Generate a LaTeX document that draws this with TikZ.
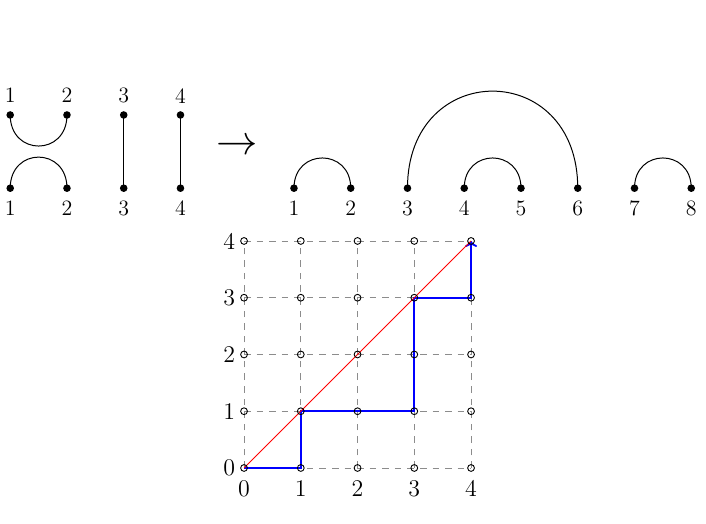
\documentclass[tikz,border=0pt]{standalone}
\usetikzlibrary{arrows.meta}
\begin{document}
\begin{tikzpicture}[
  dot/.style={circle,fill=black,inner sep=0pt,minimum size=3.8pt},
  gpt/.style={circle,draw=black,inner sep=0pt,minimum size=3.4pt,line width=0.45pt},
  toplbl/.style={font=\fontsize{11}{13}\selectfont,inner sep=0pt},
  glbl/.style={font=\large,inner sep=0pt},
  arcline/.style={line width=0.5pt},
  gridline/.style={gray!90,dash pattern=on 3.3pt off 3pt,line width=0.45pt},
  diag/.style={red,line width=0.4pt},
  path/.style={blue,line width=0.9pt},
]
\useasboundingbox (0,0) rectangle (12.44,9.216);
% left: two-row diagram
\foreach \i in {1,...,4}{
  \node[dot] (t\i) at ({0.18+\i-1},7.19) {};
  \node[dot] (b\i) at ({0.18+\i-1},5.90) {};
  \node[toplbl] (tl\i) at ({0.18+\i-1},7.53) {\i};
  \node[toplbl] (bl\i) at ({0.18+\i-1},5.55) {\i};
}
\draw[arcline] (t1.center) .. controls +(0,-0.73) and +(0,-0.73) .. (t2.center);
\draw[arcline] (b1.center) .. controls +(0,0.73) and +(0,0.73) .. (b2.center);
\draw[arcline] (t3.center) -- (b3.center);
\draw[arcline] (t4.center) -- (b4.center);
% arrow
\node[inner sep=0pt,font=\fontsize{21.6}{24}\selectfont] (arr) at (4.18,6.62) {$\rightarrow$};
% right: arc diagram
\foreach \i in {1,...,8}{
  \node[dot] (r\i) at ({5.18+\i-1},5.90) {};
  \node[toplbl] (rl\i) at ({5.18+\i-1},5.55) {\i};
}
\draw[arcline] (r1.center) .. controls +(0,0.71) and +(0,0.71) .. (r2.center);
\draw[arcline] (r4.center) .. controls +(0,0.71) and +(0,0.71) .. (r5.center);
\draw[arcline] (r7.center) .. controls +(0,0.71) and +(0,0.71) .. (r8.center);
\draw[arcline] (r3.center) .. controls +(0,2.28) and +(0,2.28) .. (r6.center);
% lattice
\begin{scope}[shift={(4.30,0.97)}]
  \foreach \i in {0,...,4}{
    \foreach \j in {0,...,4}{
      \coordinate (c\i\j) at (\i,\j);
    }
  }
  \foreach \i in {0,...,4}{
    \draw[gridline] (c\i0) -- (c\i4);
    \draw[gridline] (c0\i) -- (c4\i);
    \node[glbl] (xl\i) at (\i,-0.36) {\i};
    \node[glbl] (yl\i) at (-0.26,\i) {\i};
  }
  \draw[path,-{To[length=3pt,width=6pt]}] (c00) -- (c10) -- (c11) -- (c31) -- (c33) -- (c43) -- (c44);
  \draw[diag] (c00) -- (c44);
  \foreach \i in {0,...,4}{
    \foreach \j in {0,...,4}{
      \node[gpt] (g\i\j) at (c\i\j) {};
    }
  }
\end{scope}
\end{tikzpicture}
\end{document}
